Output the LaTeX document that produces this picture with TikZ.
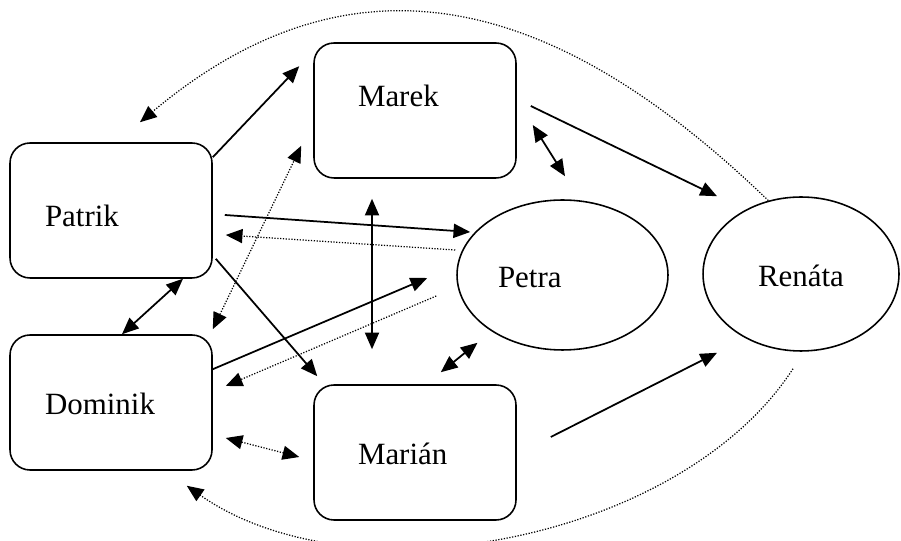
\documentclass[tikz,border=0pt]{standalone}
\usepackage{fontspec}
\setmainfont{Liberation Serif}
\usetikzlibrary{shapes,arrows.meta}

\begin{document}
\begin{tikzpicture}[x=0.02cm, y=0.02cm,
    >={Triangle[length=9.5pt,width=8pt]},
    font=\fontsize{17.6}{20}\selectfont,
    boybox/.style={draw, line width=0.9pt, rectangle, rounded corners=0.4cm, minimum width=4.04cm, minimum height=2.7cm, align=left, text height=0.5cm, text depth=0cm},
    girloval/.style={draw, line width=0.9pt, ellipse, inner sep=0pt, text height=0.5cm, text depth=0cm},
    link/.style={line width=1pt},
    hint/.style={line width=0.7pt, dash pattern=on 0.7pt off 0.9pt}]
    \useasboundingbox (0,0) rectangle (901,540);

    \node[boybox, inner xsep=0.7cm, text width=2.64cm, text height=0.66cm] (patrik) at (111,329.5) {Patrik};
    \node[boybox, inner xsep=0.88cm, text width=2.28cm, text depth=0.64cm] (marek) at (415,429.5) {Marek};
    \node[boybox, inner xsep=0.7cm, text width=2.64cm] (dominik) at (111,137.5) {Dominik};
    \node[boybox, inner xsep=0.88cm, text width=2.28cm] (marian) at (415,87.5) {Marián};
    \node[girloval, minimum width=4.22cm, minimum height=3cm, text width=2.58cm, align=left] (petra) at (562.5,265) {Petra};
    \node[girloval, minimum width=3.92cm, minimum height=3.08cm] (renata) at (801,266) {Renáta};

    \draw[link, ->] ([yshift=-0.3cm]patrik.north east) -- ([xshift=-0.28cm, yshift=-0.48cm]marek.north west);
    \draw[hint, ->] (renata.114) to[out=136, in=40, looseness=1.16] ([xshift=0.58cm, yshift=0.4cm]patrik.north);
    \draw[hint, <->] ([yshift=0.1cm]dominik.north east) -- ([xshift=-0.24cm, yshift=0.66cm]marek.south west);
    \draw[link, ->] ([xshift=0.28cm, yshift=0.09cm]marek.east) -- ([xshift=-1.68cm]renata.north);
    \draw[link, <->] ([xshift=0.32cm, yshift=-0.29cm]marek.east) -- ([xshift=0.05cm, yshift=0.46cm]petra.north);
    \draw[link, ->] ([xshift=0.24cm, yshift=-0.09cm]patrik.east) -- ([xshift=0.28cm, yshift=0.86cm]petra.west);
    \draw[hint, ->] ([xshift=-0.02cm, yshift=0.5cm]petra.west) -- ([xshift=0.26cm, yshift=-0.49cm]patrik.east);
    \draw[link, <->] ([xshift=-0.86cm, yshift=-0.4cm]marek.south) -- ([xshift=-0.86cm, yshift=0.7cm]marian.north);
    \draw[link, <->] ([xshift=1.44cm]patrik.south) -- ([xshift=0.22cm]dominik.north);
    \draw[link, ->] ([xshift=0.06cm, yshift=0.4cm]patrik.south east) -- ([xshift=0.08cm, yshift=0.16cm]marian.north west);
    \draw[link, ->] ([yshift=-0.7cm]dominik.north east) -- ([xshift=-0.58cm, yshift=-0.06cm]petra.west);
    \draw[hint, ->] ([xshift=-0.4cm, yshift=-0.42cm]petra.west) -- ([xshift=0.26cm, yshift=0.33cm]dominik.east);
    \draw[link, <->] ([xshift=-1.52cm, yshift=0.24cm]marian.north east) -- ([xshift=-1.7cm, yshift=0.16cm]petra.south);
    \draw[hint, <->] ([xshift=0.26cm, yshift=-0.71cm]dominik.east) -- ([xshift=-0.28cm, yshift=-0.09cm]marian.west);
    \draw[link, ->] ([xshift=0.68cm, yshift=0.31cm]marian.east) -- ([xshift=-1.68cm, yshift=-0.02cm]renata.south);
    \draw[hint, ->] ([xshift=-0.16cm, yshift=-0.34cm]renata.south) to[out=-123, in=-35, looseness=0.85] ([xshift=-0.52cm, yshift=-0.3cm]dominik.south east);
\end{tikzpicture}
\end{document}
